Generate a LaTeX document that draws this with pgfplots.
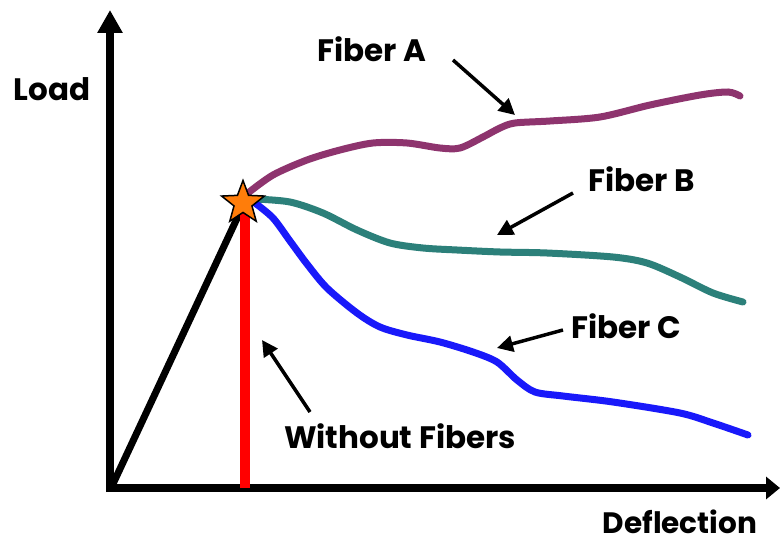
\documentclass[border=0pt]{standalone}
\usepackage{fontspec}
\setmainfont{Poppins}
\usepackage{pgfplots}
\pgfplotsset{compat=1.18}
\usetikzlibrary{arrows.meta}
\definecolor{fibA}{RGB}{142,52,110}
\definecolor{fibB}{RGB}{44,128,122}
\definecolor{fibC}{RGB}{25,25,250}
\definecolor{starO}{RGB}{255,125,10}
\tikzset{lbl/.style={font=\fontsize{31bp}{33bp}\selectfont\bfseries, text=black, inner sep=0pt, anchor=base}}
\pgfdeclareplotmark{bigstar}{%
  \pgfpathmoveto{\pgfpointpolar{90}{\pgfplotmarksize}}%
  \pgfpathlineto{\pgfpointpolar{126}{0.42\pgfplotmarksize}}%
  \pgfpathlineto{\pgfpointpolar{162}{\pgfplotmarksize}}%
  \pgfpathlineto{\pgfpointpolar{198}{0.42\pgfplotmarksize}}%
  \pgfpathlineto{\pgfpointpolar{234}{\pgfplotmarksize}}%
  \pgfpathlineto{\pgfpointpolar{270}{0.42\pgfplotmarksize}}%
  \pgfpathlineto{\pgfpointpolar{306}{\pgfplotmarksize}}%
  \pgfpathlineto{\pgfpointpolar{342}{0.42\pgfplotmarksize}}%
  \pgfpathlineto{\pgfpointpolar{18}{\pgfplotmarksize}}%
  \pgfpathlineto{\pgfpointpolar{54}{0.42\pgfplotmarksize}}%
  \pgfpathclose
  \pgfusepathqfillstroke}
\begin{document}
\begin{tikzpicture}
\begin{axis}[
  width=780bp, height=542bp, scale only axis,
  xmin=0, xmax=780, ymin=0, ymax=542, y dir=reverse,
  hide axis, clip=false,
]
% axes
\addplot[black, line width=8bp, -{Triangle[length=23bp,width=24bp]}] coordinates {(110,492) (110,10)};
\addplot[black, line width=8bp, -{Triangle[length=14bp,width=22bp]}] coordinates {(106,488) (780,488)};
% without fibers
\addplot[black, line width=7bp] coordinates {(112,486) (240,212)};
\addplot[red, line width=10bp] coordinates {(245,488) (245,212)};
% fiber curves
\addplot[fibA, line width=7bp, line cap=round, smooth, tension=0.5] coordinates {
 (248,193) (273,175) (307,160) (340,150) (373,143) (407,143) (440,148) (460,148)
 (483,137) (500,128) (515,123) (550,121) (600,117) (650,105) (700,95) (728,92) (740,96)};
\addplot[fibB, line width=7bp, line cap=round, smooth, tension=0.5] coordinates {
 (255,199) (290,202) (323,213) (357,230) (390,243) (423,248) (457,250) (500,252)
 (547,253) (613,257) (647,263) (680,277) (713,293) (743,302)};
\addplot[fibC, line width=7bp, line cap=round, smooth, tension=0.5] coordinates {
 (255,203) (273,218) (290,241) (307,264) (327,288) (357,313) (380,327) (407,335)
 (440,342) (473,352) (497,362) (517,380) (535,392) (563,396) (613,402) (680,413)
 (713,423) (748,435)};
% star
\addplot[only marks, mark=bigstar, mark size=22.5bp, mark options={fill=starO, draw=black, line width=1.5bp}] coordinates {(243,203)};
% annotation arrows
\addplot[black, line width=3.5bp, -{Triangle[length=16bp,width=16bp]}] coordinates {(453,60) (515,115)};
\addplot[black, line width=3.5bp, -{Triangle[length=16bp,width=16bp]}] coordinates {(573,193) (497,235)};
\addplot[black, line width=3.5bp, -{Triangle[length=16bp,width=16bp]}] coordinates {(563,330) (497,348)};
\addplot[black, line width=3.5bp, -{Triangle[length=16bp,width=16bp]}] coordinates {(310,412) (262,340)};
% labels
\node[lbl] at (axis cs:372,62) {Fiber A};
\node[lbl] at (axis cs:642,191) {Fiber B};
\node[lbl] at (axis cs:626,338) {Fiber C};
\node[lbl] at (axis cs:400,448) {Without Fibers};
\node[lbl] at (axis cs:52,100) {Load};
\node[lbl, font=\fontsize{29.5bp}{31bp}\selectfont\bfseries] at (axis cs:680,533) {Deflection};
\end{axis}
\pgfresetboundingbox
\useasboundingbox (0,0) rectangle (780bp,542bp);
\end{tikzpicture}
\end{document}
